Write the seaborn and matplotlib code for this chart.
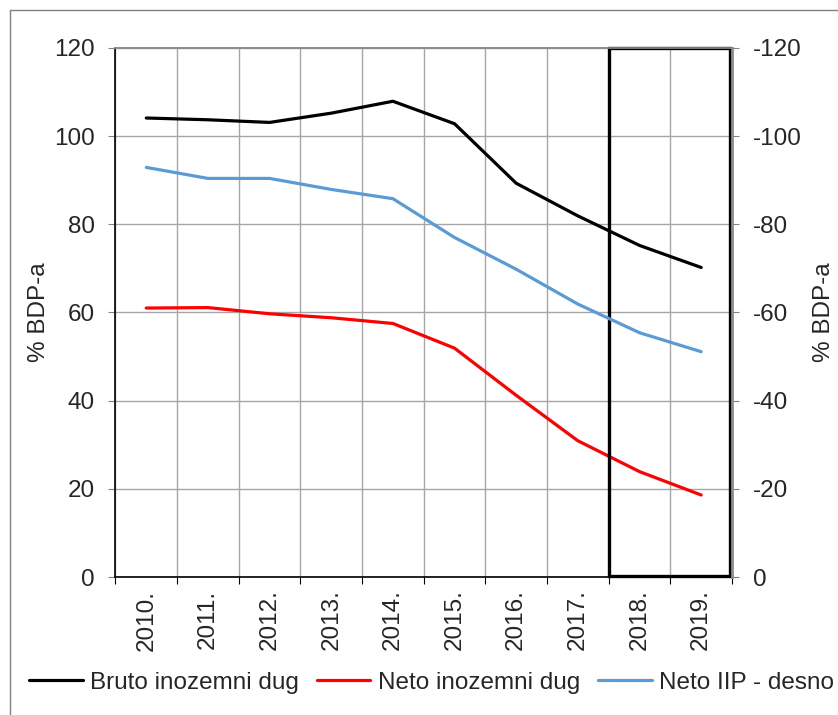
import numpy as np
import pandas as pd
import seaborn as sns
import matplotlib.pyplot as plt
from matplotlib.lines import Line2D
from matplotlib.patches import Rectangle
from matplotlib.ticker import FixedLocator

# data (% BDP-a)
years = ['2010.', '2011.', '2012.', '2013.', '2014.', '2015.', '2016.', '2017.', '2018.', '2019.']
bruto_dug = [104.1, 103.7, 103.1, 105.2, 107.9, 102.8, 89.3, 81.9, 75.2, 70.2]
neto_dug = [61.0, 61.1, 59.7, 58.8, 57.5, 51.9, 41.2, 30.9, 23.9, 18.6]
neto_iip = [-92.9, -90.4, -90.4, -87.9, -85.8, -77.0, -69.8, -61.9, -55.4, -51.1]  # right axis, inverted

sns.set_style('white')
plt.rcParams['font.family'] = ['Liberation Sans', 'DejaVu Sans']
plt.rcParams['axes.unicode_minus'] = False

df = pd.DataFrame({'pos': np.arange(len(years)), 'bruto': bruto_dug,
                   'neto': neto_dug, 'iip': neto_iip})

fig = plt.figure(figsize=(8.38, 7.15), dpi=100)
ax = fig.add_axes([0.1378, 0.193, 0.7357, 0.74])
ax2 = ax.twinx()

lw = 2.3
sns.lineplot(data=df, x='pos', y='bruto', ax=ax, color='black', lw=lw)
sns.lineplot(data=df, x='pos', y='neto', ax=ax, color='#ff0000', lw=lw)
sns.lineplot(data=df, x='pos', y='iip', ax=ax2, color='#5b9bd5', lw=lw)

fs = 17.5
ax.set_xlim(-0.5, len(years) - 0.5)
ax.set_ylim(0, 120)
ax2.set_ylim(0, -120)
ax.set_yticks(np.arange(0, 121, 20))
ax2.set_yticks(np.arange(0, -121, -20))
ax.tick_params(axis='y', labelsize=fs, length=5, pad=10, direction='out', left=True, color='#808080')
ax2.tick_params(axis='y', labelsize=fs, length=5, pad=10, direction='out', right=True, color='#808080')

# gridlines between categories, labels at centres
ax.xaxis.set_major_locator(FixedLocator(np.arange(-0.5, len(years), 1.0)))
ax.xaxis.set_minor_locator(FixedLocator(np.arange(len(years))))
ax.set_xticklabels([''] * (len(years) + 1))
ax.set_xticklabels(years, minor=True, rotation=90, fontsize=fs)
ax.tick_params(axis='x', which='major', length=5, bottom=True, color='black')
ax.tick_params(axis='x', which='minor', length=0, pad=9)
ax.grid(True, which='major', color='#a6a6a6', lw=1)
ax.set_axisbelow(True)

ax.set_xlabel('')
ax.set_ylabel('% BDP-a', fontsize=fs, labelpad=3)
ax2.set_ylabel('% BDP-a', fontsize=fs, labelpad=8)

for a in (ax, ax2):
    for s in a.spines.values():
        s.set_color('#8c8c8c')
        s.set_linewidth(1.2)
ax.spines['left'].set_color('black')
ax.spines['bottom'].set_color('black')
ax2.spines['left'].set_visible(False)
ax2.spines['bottom'].set_visible(False)
ax2.spines['right'].set_linewidth(2)

# projection box 2018-2019
ax.add_patch(Rectangle((7.5, 0.3), 1.97, 119.7, fill=False, ec='black', lw=2.4,
                       clip_on=False, zorder=5))

handles = [Line2D([], [], color='black', lw=lw),
           Line2D([], [], color='#ff0000', lw=lw),
           Line2D([], [], color='#5b9bd5', lw=lw)]
labels = ['Bruto inozemni dug', 'Neto inozemni dug', 'Neto IIP - desno']
fig.legend(handles, labels, loc='center', bbox_to_anchor=(0.515, 0.045), ncol=3,
           frameon=False, fontsize=fs, handlelength=2.2, handletextpad=0.3,
           columnspacing=0.75, borderpad=0, borderaxespad=0)

# outer chart frame (top and left edges visible)
fig.add_artist(Line2D([0.012, 1.0], [0.986, 0.986], transform=fig.transFigure,
                      color='#808080', lw=1))
fig.add_artist(Line2D([0.012, 0.012], [0.0, 0.986], transform=fig.transFigure,
                      color='#808080', lw=1))

fig.savefig('out.png', dpi=100)
